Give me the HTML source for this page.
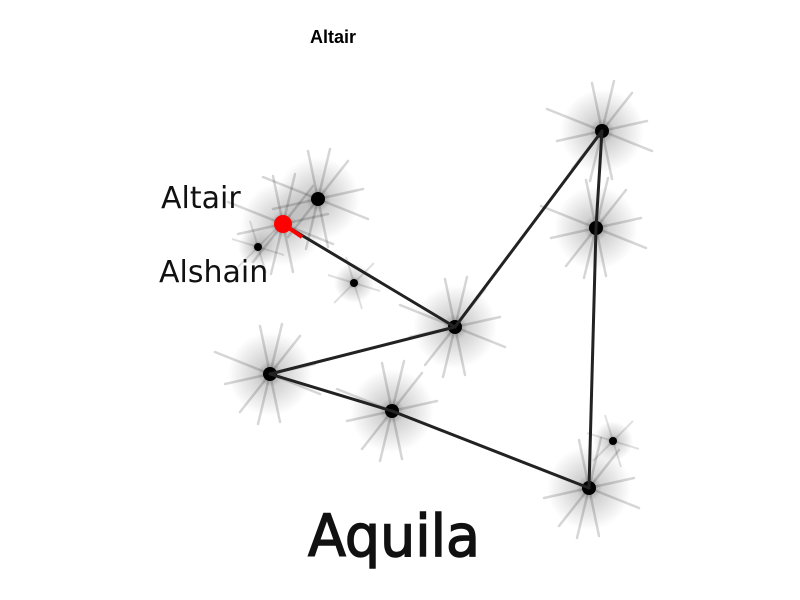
<!DOCTYPE html>
<html><head><meta charset="utf-8"><style>
html,body{margin:0;padding:0;background:#fff;width:800px;height:600px;overflow:hidden}
</style></head><body>
<svg width="800" height="600" viewBox="0 0 800 600" xmlns="http://www.w3.org/2000/svg">
<defs>
<radialGradient id="g"><stop offset="0" stop-color="#000" stop-opacity="0.5"/><stop offset="0.3" stop-color="#000" stop-opacity="0.18"/><stop offset="1" stop-color="#000" stop-opacity="0"/></radialGradient>
<g id="star">
<circle r="42" fill="url(#g)"/>
<g stroke="#000" stroke-opacity="0.16" stroke-width="2.5" stroke-linecap="round">
<line x1="-10" y1="-48" x2="10" y2="48"/>
<line x1="12" y1="-50" x2="-12" y2="50"/>
<line x1="-55" y1="-22" x2="50" y2="20"/>
<line x1="-45" y1="10" x2="45" y2="-10"/>
<line x1="-30" y1="38" x2="30" y2="-38"/>
</g>
<circle r="7" fill="#000"/>
</g>
<g id="small">
<circle r="20" fill="url(#g)"/>
<g stroke="#000" stroke-opacity="0.12" stroke-width="2">
<line x1="-8" y1="-26" x2="8" y2="26"/><line x1="-26" y1="-8" x2="26" y2="8"/><line x1="20" y1="-20" x2="-20" y2="20"/>
</g>
<circle r="4" fill="#000"/>
</g>
</defs>
<text x="333" y="43" font-family="Liberation Sans, sans-serif" font-weight="bold" font-size="18" text-anchor="middle">Altair</text>
<use href="#star" x="318" y="199"/>
<use href="#star" x="283" y="224"/>
<use href="#small" x="258" y="247"/>
<use href="#small" x="354" y="283"/>
<use href="#star" x="455" y="327"/>
<use href="#star" x="602" y="131"/>
<use href="#star" x="596" y="228"/>
<use href="#star" x="270" y="374"/>
<use href="#star" x="392" y="411"/>
<use href="#star" x="589" y="488"/>
<use href="#small" x="613" y="441"/>
<g stroke="#222" stroke-width="3" stroke-linecap="round">
<line x1="283" y1="224" x2="455" y2="327"/>
<line x1="455" y1="327" x2="602" y2="131"/>
<line x1="602" y1="131" x2="596" y2="228"/>
<line x1="596" y1="228" x2="589" y2="488"/>
<line x1="455" y1="327" x2="270" y2="374"/>
<line x1="270" y1="374" x2="392" y2="411"/>
<line x1="392" y1="411" x2="589" y2="488"/>
</g>
<line x1="283" y1="224" x2="302" y2="237" stroke="#f00" stroke-width="4"/>
<circle cx="283" cy="224" r="9" fill="#f00"/>
<text x="161" y="208" font-family="DejaVu Sans, sans-serif" font-size="30" fill="#111">Altair</text>
<text x="159" y="282" font-family="DejaVu Sans, sans-serif" font-size="30" fill="#111">Alshain</text>
<text x="308" y="556" font-family="DejaVu Sans, sans-serif" font-size="58" fill="#111" stroke="#111" stroke-width="1.5" textLength="172" lengthAdjust="spacingAndGlyphs">Aquila</text>
</svg>
</body></html>
